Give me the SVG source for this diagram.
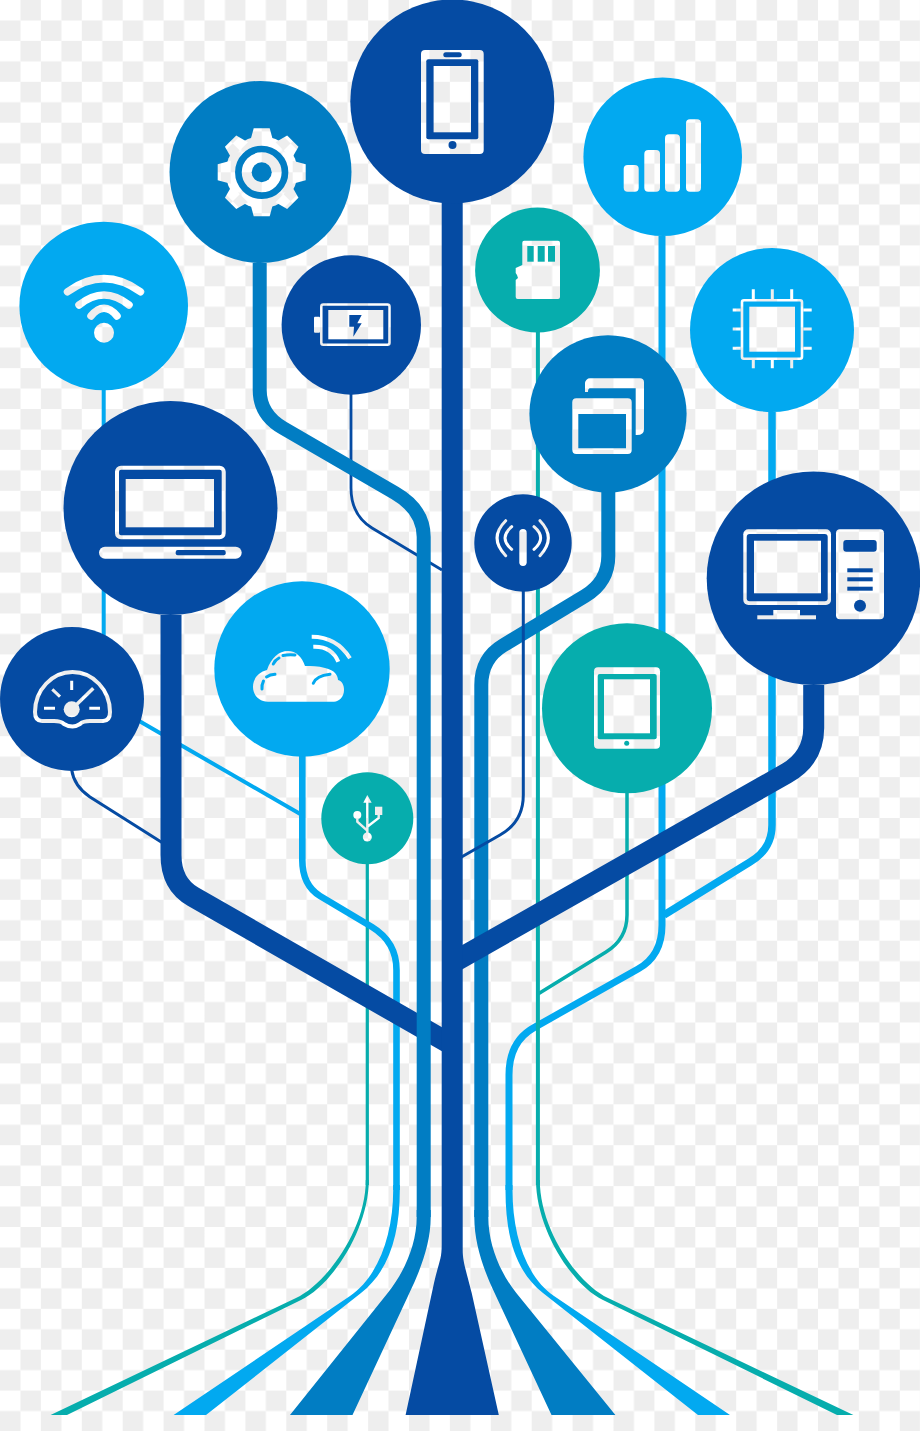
<svg xmlns="http://www.w3.org/2000/svg" width="920" height="1431" viewBox="0 0 920 1431">
<style>
.l{fill:none;stroke-linecap:butt;stroke-linejoin:round}
.dark{stroke:#054ba3}.mid{stroke:#017dc3}.light{stroke:#02a9f0}.teal{stroke:#06adad}
.fd{fill:#054ba3}.fm{fill:#017dc3}.fl{fill:#02a9f0}.ft{fill:#06adad}
.k{fill:url(#ck)}
.ks{fill:none;stroke:url(#ck)}
</style>
<defs>
<pattern id="ck" patternUnits="userSpaceOnUse" width="40.9" height="40.9">
<rect width="40.9" height="40.9" fill="#ffffff"/>
<rect x="20.45" width="20.45" height="20.45" fill="#eeeeee"/>
<rect y="20.45" width="20.45" height="20.45" fill="#eeeeee"/>
</pattern>
<polygon id="tooth" points="-8,-44 8,-44 11.5,-31 -11.5,-31" fill="url(#ck)"/>
</defs>
<rect width="920" height="1431" fill="url(#ck)"/>

<g id="connectors">
<path class="l dark" stroke-width="2.8" d="M351 394V488Q351 515 372 528L442 570"/>
<path class="l light" stroke-width="4" d="M103.7 390V700.6L302 815"/>
<path class="l dark" stroke-width="3" d="M71.7 770Q74 786 90 797L162 842.5"/>
<path class="l teal" stroke-width="3.2" d="M367.3 864V1185"/>
<path class="l light" stroke-width="6.6" d="M302.3 756V860Q302.3 885 320 896L372 927Q396.5 942 396.5 970V1190"/>
<path class="l light" stroke-width="7" d="M662 236V925Q662 955.8 638 969L534 1027.6Q509 1041.5 509 1075V1190"/>
<path class="l light" stroke-width="7.5" d="M772 412V825Q772 849 750 862L664 915"/>
<path class="l teal" stroke-width="3.5" d="M627 793V915Q627 939 606 952L538 994"/>
<path class="l teal" stroke-width="4" d="M537.9 332V1185"/>
<path class="l mid" stroke-width="14" d="M608.3 492V556Q608.3 582 585 596L503 645.5Q481.3 658.5 481.3 685V1217"/>
<path class="l dark" stroke-width="3" d="M523.3 591V795Q523.3 822 500 835L458 859"/>
<path class="l dark" stroke-width="21" d="M813.7 685V728Q813.7 758 786 773.7L452 963"/>
<path class="l dark" stroke-width="21" d="M171 615V855Q171 884 193 896.6L452 1045"/>
<path class="l mid" stroke-width="14" d="M259.7 263V390Q259.7 414.5 283 428L395 493Q423.7 509.6 423.7 537V1217"/>
<path class="ft" d="M365.8 1180C365.8 1230 326 1284 296 1298L50.6 1415H67L301 1300C331 1286 368.8 1230 368.8 1180Z"/>
<path class="ft" d="M536 1180C536 1230 573 1286 603 1300L837 1415H853.4L608 1298C578 1284 539.8 1230 539.8 1180Z"/>
<path class="fl" d="M393.2 1185V1190C393.2 1235 378 1277 350 1296L173.6 1415H206L361 1293C389 1271 399.8 1235 399.8 1190V1185Z"/>
<path class="fl" d="M505.5 1185V1190C505.5 1235 515 1271 543 1293L698 1415H730L554 1296C526 1277 512.5 1235 512.5 1190V1185Z"/>
<path class="fm" d="M416.7 1210V1217C416.7 1245 403.7 1273 387.7 1293L290 1415H352.5L409.4 1293C419.4 1272 430.7 1245 430.7 1217V1210Z"/>
<path class="fm" d="M474.3 1210V1217C474.3 1245 484.6 1272 494.6 1293L551.5 1415H615.4L516.3 1293C500.3 1273 488.3 1245 488.3 1217V1210Z"/>
<path class="fd" d="M441.7 203V1245C441.7 1260 439 1261 434 1283L405.6 1415H498.8L471.7 1293C466 1270 462.7 1262 462.7 1250V203Z"/>
</g>

<g id="node-phone">
<circle class="fd" cx="452.3" cy="101.5" r="102"/>
<rect class="k" x="421" y="50" width="62.7" height="104" rx="4"/>
<rect class="fd" x="426.3" y="59.3" width="52" height="80" rx="2"/>
<rect class="k" x="433.6" y="66" width="37.4" height="66.3"/>
<rect class="fd" x="443.3" y="52.3" width="18.4" height="5" rx="2.5"/>
<circle class="fd" cx="452.5" cy="145" r="4"/>
</g>

<g id="node-gear">
<circle class="fm" cx="260.5" cy="172" r="91"/>
<g transform="translate(261.7 172.3)">
<circle class="k" r="36"/>
<use href="#tooth"/><use href="#tooth" transform="rotate(45)"/><use href="#tooth" transform="rotate(90)"/><use href="#tooth" transform="rotate(135)"/><use href="#tooth" transform="rotate(180)"/><use href="#tooth" transform="rotate(225)"/><use href="#tooth" transform="rotate(270)"/><use href="#tooth" transform="rotate(315)"/>
<circle r="23.3" fill="none" stroke="#017dc3" stroke-width="6.7"/>
<circle class="fm" r="10"/>
</g>
</g>

<g id="node-wifi">
<circle class="fl" cx="103.7" cy="306" r="84.3"/>
<path class="ks" stroke-width="7.5" stroke-linecap="round" d="M67.5 291.7Q104 265.7 140.5 291.7"/>
<path class="ks" stroke-width="7.5" stroke-linecap="round" d="M79 305Q104 285 129 305"/>
<path class="ks" stroke-width="7.5" stroke-linecap="round" d="M91 316Q104 300.6 117 316"/>
<circle class="k" cx="104" cy="332.7" r="10"/>
</g>

<g id="node-battery">
<circle class="fd" cx="351.3" cy="325" r="69.7"/>
<rect class="ks" stroke-width="2.5" x="321.3" y="304.5" width="68.2" height="40.3" rx="2"/>
<rect class="k" x="314" y="316.7" width="6" height="16" rx="1"/>
<rect class="k" x="328.3" y="310" width="55" height="29.3"/>
<polygon class="fd" points="349.3,315 361.7,315 357.3,323.3 361.7,323.3 353.3,336.7 354,326.7 349.3,326.7"/>
</g>

<g id="node-signal">
<circle class="fl" cx="662.7" cy="156.7" r="79.3"/>
<rect class="k" x="623.7" y="165" width="15" height="26.7" rx="4"/>
<rect class="k" x="644.3" y="150" width="15.7" height="41.7" rx="4"/>
<rect class="k" x="665" y="134.3" width="15" height="57.4" rx="4"/>
<rect class="k" x="686" y="119.3" width="15" height="72.4" rx="4"/>
</g>

<g id="node-sd">
<circle class="ft" cx="537.5" cy="270" r="62.4"/>
<path class="k" d="M524.5 240.7H558A2 2 0 0 1 560 242.7V297A2 2 0 0 1 558 299H517.7A2 2 0 0 1 515.7 297V280L518 278L517 275L515.7 273V268L522.3 265V242.7A2 2 0 0 1 524.5 240.7Z"/>
<rect class="ft" x="527.3" y="246" width="6.4" height="15.7"/>
<rect class="ft" x="537.7" y="246" width="7" height="15.7"/>
<rect class="ft" x="548" y="246" width="7" height="15.7"/>
</g>

<g id="node-chip">
<circle class="fl" cx="772" cy="330" r="82"/>
<rect class="ks" stroke-width="2.6" x="742" y="300.3" width="60" height="58.4" rx="2"/>
<rect class="k" x="749.3" y="306.7" width="45.7" height="45"/>
<path class="ks" stroke-width="3" d="M753.3 289.3V299M772.3 289.3V299M791.7 289.3V299M753.3 360V368.3M772.3 360V368.3M791.7 360V368.3M732.7 310H740.7M732.7 329H740.7M732.7 348.3H740.7M803.3 310H811.7M803.3 329H811.7M803.3 348.3H811.7"/>
</g>

<g id="node-windows">
<circle class="fm" cx="608" cy="413.8" r="78.6"/>
<path class="k" d="M585 392V383A5 5 0 0 1 590 378.3H640A4 4 0 0 1 644 382V429Q644 435 637 435H635.7V388.3H590Q588 388.3 588 392Z"/>
<path class="k" fill-rule="evenodd" d="M576.3 398.3H627.7A4 4 0 0 1 631.7 402.3V450A4 4 0 0 1 627.7 454H576.3A4 4 0 0 1 572.3 450V402.3A4 4 0 0 1 576.3 398.3ZM578.3 414V448.3H626V414Z"/>
</g>

<g id="node-laptop">
<circle class="fd" cx="170.5" cy="508" r="107"/>
<rect class="ks" stroke-width="4" x="117" y="467.7" width="106.7" height="69.6" rx="4"/>
<rect class="k" x="125.7" y="479" width="88.3" height="48.3"/>
<rect class="k" x="99" y="546.7" width="142.7" height="12" rx="6"/>
<rect class="fd" x="175.7" y="550" width="50" height="5.3" rx="2"/>
</g>

<g id="node-gauge">
<circle class="fd" cx="72" cy="699" r="72"/>
<path class="ks" stroke-width="4" d="M35 712C35 690 52 672 72.5 672C93 672 110 690 110 712Q110 721 103 721H90Q83 721 80 724Q76 726.5 72.5 726.5Q68 726.5 64 724Q61 721 54 721H42Q35 721 35 712Z"/>
<circle class="k" cx="71.7" cy="709.3" r="8"/>
<path class="ks" stroke-width="3.5" d="M73 708L93.3 688.3"/>
<path class="ks" stroke-width="3" d="M71.7 680.7V690M52.3 689.3L60 696.7M44 708.3H55M89.3 708.3H100"/>
</g>

<g id="node-cloud">
<circle class="fl" cx="302" cy="669" r="87.7"/>
<path class="k" d="M268 701.7C259 701.7 253 695 253 687C253 678 259 672 267 670C271 658 279 651 288 651C296 651 302 657 305 666C311 666 318 666 325 668C335 670 338 676 338 680C342 681 344 685 344 690C344 697 339 701.7 334 701.7Z"/>
<path fill="none" stroke="#02a9f0" stroke-width="3" stroke-linecap="round" d="M262 689Q261.5 685 263.5 681M266.5 677Q270 674.5 275 674.3M273.3 664Q275 660 279 658M283 655.5Q288 654.5 295 655M313.3 683.3Q316 676 330 674.3"/>
<path class="ks" stroke-width="4" d="M311.7 636.7Q336.7 636.7 350 658.3"/>
<path class="ks" stroke-width="4" d="M313.3 646.7Q331.7 646 338.3 661.7"/>
</g>

<g id="node-usb">
<circle class="ft" cx="367.3" cy="818.3" r="46"/>
<polygon class="k" points="367.3,795 371.7,802.7 363.3,802.7"/>
<path class="ks" stroke-width="2.4" d="M367.3 802V834M357.3 815V821.7L367.3 830.7M378.7 815V818L367.3 826.7"/>
<circle class="k" cx="367.3" cy="837" r="4.5"/>
<circle class="k" cx="357.3" cy="815" r="4"/>
<rect class="k" x="375" y="806.7" width="7.3" height="8.3"/>
</g>

<g id="node-antenna">
<circle class="fd" cx="523" cy="543" r="48.7"/>
<rect class="k" x="519.3" y="529" width="7.4" height="37" rx="3.7"/>
<path class="ks" stroke-width="3" stroke-linecap="round" d="M511.7 526.7Q498.3 538 511.7 549.3M534 526.7Q547.3 538 534 549.3M505.7 520.7Q488.4 538 505.7 555.7M540 520.7Q556.7 538 540 555.7"/>
</g>

<g id="node-tablet">
<circle class="ft" cx="627" cy="708.3" r="85"/>
<rect class="k" x="594" y="667.3" width="66" height="81.4" rx="4"/>
<rect class="ft" x="597.7" y="674" width="59" height="65.3" rx="2"/>
<rect class="k" x="604" y="679.3" width="46" height="54"/>
<circle class="ft" cx="626.7" cy="743.3" r="2.5"/>
</g>

<g id="node-pc">
<circle class="fd" cx="813.5" cy="578.3" r="106.8"/>
<rect class="k" x="743.3" y="529.3" width="87.7" height="75.7" rx="5"/>
<rect class="fd" x="746.7" y="534" width="81" height="67.3" rx="3"/>
<rect class="k" x="754" y="540.7" width="67" height="52.6"/>
<rect class="k" x="773.3" y="610" width="26.7" height="6"/>
<rect class="k" x="757.3" y="615.3" width="58.7" height="4"/>
<rect class="k" x="836" y="529.3" width="48" height="90" rx="4"/>
<rect class="fd" x="843.3" y="540" width="33.4" height="11.7" rx="3"/>
<rect class="fd" x="847.3" y="568.3" width="25.4" height="4"/>
<rect class="fd" x="847.3" y="577.3" width="25.4" height="4"/>
<rect class="fd" x="847.3" y="586.7" width="25.4" height="4"/>
<circle class="fd" cx="860" cy="605.7" r="6"/>
</g>
</svg>
